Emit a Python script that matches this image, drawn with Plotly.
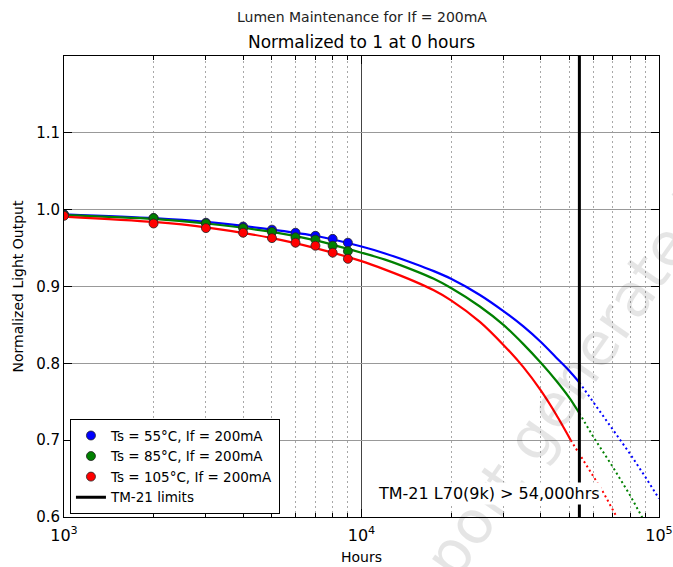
import plotly.graph_objects as go

# ---- data ----
pt_hours = [1000, 2000, 3000, 4000, 5000, 6000, 7000, 8000, 9000]
pts_55 = [0.994, 0.989, 0.983, 0.978, 0.974, 0.970, 0.966, 0.962, 0.957]
pts_85 = [0.993, 0.989, 0.982, 0.976, 0.971, 0.964, 0.961, 0.953, 0.946]
pts_105 = [0.992, 0.982, 0.976, 0.970, 0.963, 0.957, 0.953, 0.944, 0.936]

fit_hours = [1000, 2000, 3000, 5000, 7000, 10000, 12000, 15000, 17500, 20000, 25000,
             30000, 35000, 40000, 45000, 50000, 54000]
fit_55 = [0.994, 0.989, 0.984, 0.974, 0.966, 0.952, 0.943, 0.930, 0.920, 0.910, 0.889,
          0.868, 0.848, 0.828, 0.808, 0.790, 0.775]
fit_85 = [0.993, 0.988, 0.982, 0.971, 0.960, 0.944, 0.935, 0.921, 0.910, 0.898, 0.874,
          0.850, 0.825, 0.801, 0.778, 0.755, 0.735]
fit_105_hours = [1000, 2000, 3000, 5000, 7000, 10000, 12000, 15000, 17500, 20000, 25000,
                 30000, 35000, 40000, 45000, 50500]
fit_105 = [0.991, 0.984, 0.977, 0.963, 0.950, 0.933, 0.922, 0.907, 0.895, 0.882, 0.854,
           0.824, 0.795, 0.765, 0.734, 0.700]

ext_55_hours = [54000, 60000, 70000, 80000, 90000, 100000]
ext_55 = [0.775, 0.750, 0.714, 0.682, 0.652, 0.624]
ext_85_hours = [54000, 60000, 70000, 80000, 90000]
ext_85 = [0.735, 0.705, 0.665, 0.628, 0.592]
ext_105_hours = [50500, 55000, 60000, 65000, 70000, 75000]
ext_105 = [0.700, 0.677, 0.654, 0.632, 0.609, 0.588]

tm21_hours = 54000
series_names = ["Ts = 55°C, If = 200mA", "Ts = 85°C, If = 200mA", "Ts = 105°C, If = 200mA"]
colors = ["#0000ff", "#008000", "#ff0000"]
x_tickvals = [1000, 10000, 100000]
x_ticktext = ["10<sup>3</sup>", "10<sup>4</sup>", "10<sup>5</sup>"]
x_minor = [2000, 3000, 4000, 5000, 6000, 7000, 8000, 9000,
           20000, 30000, 40000, 50000, 60000, 70000, 80000, 90000]
y_tickvals = [0.6, 0.7, 0.8, 0.9, 1.0, 1.1]
y_ticktext = ["0.6", "0.7", "0.8", "0.9", "1.0", "1.1"]

FONT = "DejaVu Sans"
fig = go.Figure()

fits = [(fit_hours, fit_55), (fit_hours, fit_85), (fit_105_hours, fit_105)]
exts = [(ext_55_hours, ext_55), (ext_85_hours, ext_85), (ext_105_hours, ext_105)]
pts = [pts_55, pts_85, pts_105]

for i in range(3):
    fig.add_trace(go.Scatter(x=fits[i][0], y=fits[i][1], mode="lines",
                             line=dict(color=colors[i], width=2.2, shape="spline", smoothing=0.8),
                             showlegend=False, hoverinfo="skip"))
    fig.add_trace(go.Scatter(x=exts[i][0], y=exts[i][1], mode="lines",
                             line=dict(color=colors[i], width=2, dash="2px,3px"), showlegend=False,
                             hoverinfo="skip"))
for i in range(3):
    fig.add_trace(go.Scatter(x=pt_hours, y=pts[i], mode="markers", name=series_names[i],
                             marker=dict(color=colors[i], size=9,
                                         line=dict(color="#222222", width=0.8))))

fig.add_trace(go.Scatter(x=[tm21_hours, tm21_hours], y=[0.6, 1.2], mode="lines",
                         name="TM-21 limits", line=dict(color="black", width=3)))

# watermark (drawn first so the label box sits on top of it)
fig.add_annotation(x=0.818, y=0.232, xref="paper", yref="paper", text="report generated",
                   showarrow=False, textangle=-55, xanchor="center", yanchor="middle",
                   font=dict(family=FONT, size=60, color="rgba(0,0,0,0.10)"))

fig.add_annotation(x=4.4286, y=0.631, xref="x", yref="y",
                   text="TM-21 L70(9k) > 54,000hrs", showarrow=False,
                   bgcolor="white", font=dict(family=FONT, size=16, color="black"),
                   xanchor="center", yanchor="middle", borderpad=1)

# titles
fig.add_annotation(x=0.5, y=1, xref="paper", yref="paper", yshift=39,
                   text="Lumen Maintenance for If = 200mA", showarrow=False,
                   font=dict(family=FONT, size=14, color="#222222"), yanchor="middle")
fig.add_annotation(x=0.5, y=1, xref="paper", yref="paper", yshift=14,
                   text="Normalized to 1 at 0 hours", showarrow=False,
                   font=dict(family=FONT, size=17, color="black"), yanchor="middle")

fig.update_layout(
    width=673, height=567,
    margin=dict(l=64, r=14, t=56, b=50),
    paper_bgcolor="white", plot_bgcolor="white",
    font=dict(family=FONT, size=14, color="black"),
    legend=dict(x=0.01, y=0.006, xanchor="left", yanchor="bottom",
                bgcolor="white", bordercolor="black", borderwidth=1,
                font=dict(family=FONT, size=13.5), tracegroupgap=0),
    xaxis=dict(type="log", range=[3, 5], tickvals=x_tickvals, ticktext=x_ticktext,
               ticks="inside", ticklen=8, tickcolor="black", mirror="ticks",
               showline=True, linecolor="black", linewidth=1, automargin=False,
               showgrid=True, gridcolor="#444444", gridwidth=1,
               tickfont=dict(size=16), zeroline=False, ticklabelstandoff=4,
               title=dict(text="Hours", font=dict(size=14), standoff=7),
               minor=dict(tickvals=x_minor, ticks="inside", ticklen=4, tickcolor="black",
                          showgrid=True, griddash="2px,3px", gridcolor="#a8a8a8", gridwidth=1)),
    yaxis=dict(range=[0.6, 1.2], tickvals=y_tickvals, ticktext=y_ticktext,
               ticks="inside", ticklen=8, tickcolor="black", mirror="ticks",
               showline=True, linecolor="black", linewidth=1, automargin=False,
               showgrid=True, gridcolor="#999999", gridwidth=1, zeroline=False,
               tickfont=dict(size=15),
               title=dict(text="Normalized Light Output", font=dict(size=14), standoff=9)),
)

fig.write_html("out.html", config={"displayModeBar": False},
               post_script="document.body.style.margin='0';document.body.style.overflow='hidden';")
